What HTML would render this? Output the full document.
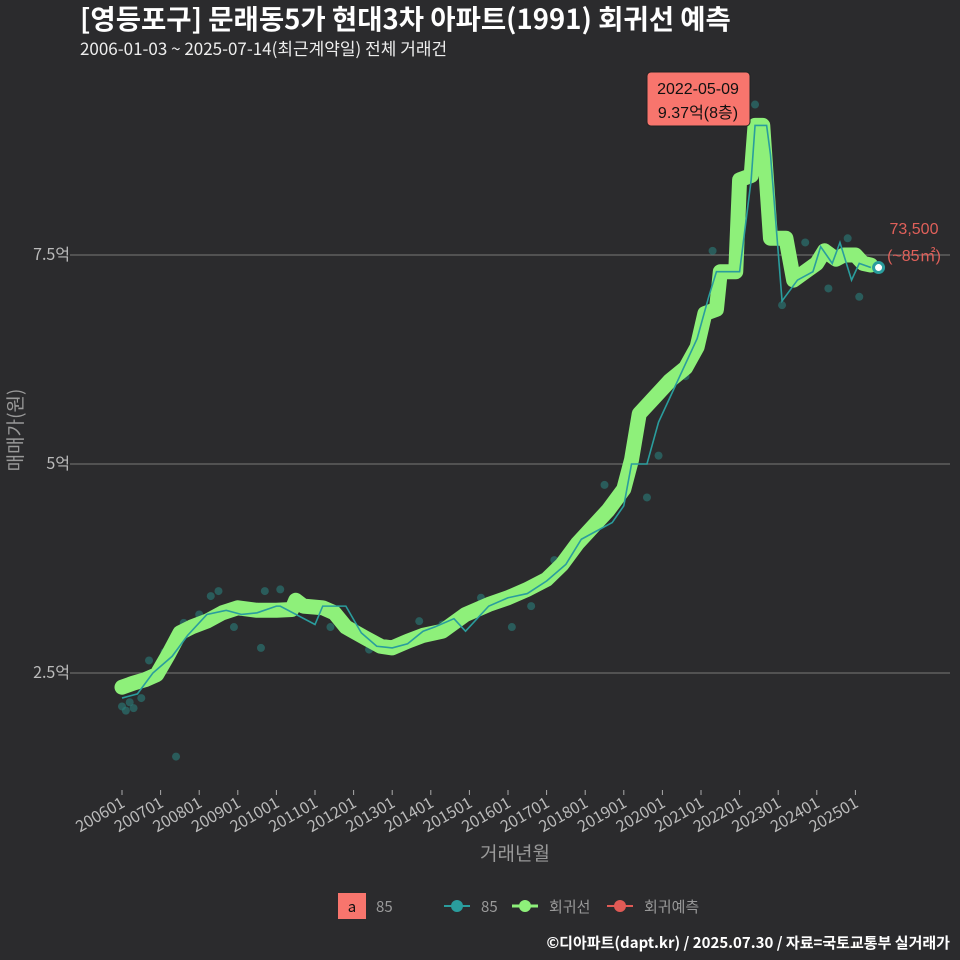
<!DOCTYPE html>
<html><head><meta charset="utf-8"><style>
body{margin:0;background:#2b2b2d;}
svg{display:block;font-family:"Noto Sans CJK KR","Liberation Sans",sans-serif;}
.lib{font-family:"Liberation Sans","Noto Sans CJK KR",sans-serif;}
</style></head><body>
<svg id="c" width="960" height="960" viewBox="0 0 960 960">
<rect width="960" height="960" fill="#2b2b2d"/>
<text x="80" y="29" fill="#fff" font-size="27.5" font-weight="bold">[영등포구] 문래동5가 현대3차 아파트(1991) 회귀선 예측</text>
<text x="80" y="55" fill="#eee" font-size="17">2006-01-03 ~ 2025-07-14(최근계약일) 전체 거래건</text>
<g id="grid"></g>
<g id="pts"></g>
<g id="lines"></g>
<g id="xt"></g>
<text x="515" y="860" fill="#999" font-size="19" text-anchor="middle">거래년월</text>
<text transform="translate(22,430) rotate(-90)" fill="#999" font-size="19" text-anchor="middle">매매가(원)</text>
<g class="lib">
<rect x="647" y="72" width="103" height="54" rx="4" fill="#f8756d" stroke="#222"/>
<text x="698" y="94" font-size="16" text-anchor="middle" fill="#111">2022-05-09</text>
<text x="698" y="118" font-size="16" text-anchor="middle" fill="#111">9.37억(8층)</text>
</g>
<text class="lib" x="914" y="234" fill="#e0605a" font-size="16" text-anchor="middle">73,500</text>
<text class="lib" x="914" y="261" fill="#e0605a" font-size="16" text-anchor="middle">(~85㎡)</text>
<g>
<rect x="338" y="893" width="28" height="26" fill="#f8756d"/>
<text x="352" y="912" font-size="15" text-anchor="middle" fill="#111">a</text>
<text x="376" y="912" font-size="15" fill="#999">85</text>
<line x1="444" y1="906" x2="470" y2="906" stroke="#2a9d9d" stroke-width="2"/><circle cx="457" cy="906" r="6" fill="#2a9d9d"/>
<text x="481" y="912" font-size="15" fill="#999">85</text>
<line x1="512" y1="906" x2="538" y2="906" stroke="#8ef07a" stroke-width="3"/><circle cx="525" cy="906" r="6" fill="#8ef07a"/>
<text x="549" y="912" font-size="15" fill="#999">회귀선</text>
<line x1="607" y1="906" x2="633" y2="906" stroke="#e05a55" stroke-width="2"/><circle cx="620" cy="906" r="6" fill="#e05a55"/>
<text x="644" y="912" font-size="15" fill="#999">회귀예측</text>
</g>
<text x="950" y="948" fill="#fff" font-size="15" font-weight="bold" text-anchor="end">©디아파트(dapt.kr) / 2025.07.30 / 자료=국토교통부 실거래가</text>
</svg>
<script>
const yTicks=[2.5,5,7.5];
const yTickLabels=["2.5억","5억","7.5억"];
const xTickYears=[2006,2007,2008,2009,2010,2011,2012,2013,2014,2015,2016,2017,2018,2019,2020,2021,2022,2023,2024,2025];
const xTickLabels=["200601","200701","200801","200901","201001","201101","201201","201301","201401","201501","201601","201701","201801","201901","202001","202101","202201","202301","202401","202501"];
const trendT=[2006.0,2006.3,2006.6,2006.9,2007.2,2007.5,2007.8,2008.2,2008.6,2009.0,2009.5,2010.0,2010.4,2010.5,2010.7,2011.2,2011.5,2011.8,2012.3,2012.7,2013.0,2013.4,2013.8,2014.3,2014.6,2014.9,2015.5,2016.0,2016.5,2017.0,2017.4,2017.8,2018.2,2018.6,2019.0,2019.2,2019.4,2019.8,2020.2,2020.6,2020.9,2021.1,2021.4,2021.5,2021.9,2022.0,2022.3,2022.4,2022.6,2022.8,2023.2,2023.4,2023.7,2024.0,2024.2,2024.5,2024.7,2025.0,2025.2,2025.4];
const trendV=[2.33,2.38,2.42,2.48,2.72,2.98,3.05,3.12,3.22,3.28,3.25,3.25,3.26,3.37,3.3,3.28,3.22,3.05,2.92,2.82,2.8,2.88,2.95,3.0,3.1,3.2,3.32,3.4,3.5,3.62,3.8,4.05,4.25,4.45,4.7,5.05,5.6,5.8,6.0,6.15,6.4,6.8,6.85,7.3,7.3,8.4,8.45,9.05,9.05,7.7,7.7,7.2,7.3,7.4,7.55,7.45,7.5,7.5,7.4,7.38];
const avgT=[2006.0,2006.4,2006.8,2007.3,2007.7,2008.2,2008.7,2009.1,2009.5,2010.0,2010.1,2011.0,2011.2,2011.6,2011.8,2012.2,2012.6,2013.0,2013.4,2013.8,2014.1,2014.6,2014.9,2015.5,2016.0,2016.5,2017.0,2017.5,2017.9,2018.3,2018.7,2019.0,2019.2,2019.6,2019.9,2020.3,2020.6,2020.9,2021.2,2021.4,2021.5,2022.0,2022.3,2022.4,2022.7,2022.8,2023.1,2023.5,2023.9,2024.1,2024.4,2024.6,2024.9,2025.1,2025.4];
const avgV=[2.2,2.25,2.5,2.7,2.95,3.2,3.25,3.2,3.22,3.3,3.3,3.08,3.3,3.3,3.3,2.98,2.82,2.8,2.85,3.0,3.05,3.15,3.0,3.3,3.4,3.45,3.6,3.8,4.1,4.2,4.3,4.5,5.0,5.0,5.5,5.9,6.2,6.5,7.0,7.3,7.3,7.3,8.4,9.05,9.05,8.7,6.95,7.2,7.3,7.6,7.4,7.65,7.2,7.4,7.35];
const ptT=[2006.0,2006.1,2006.2,2006.3,2006.5,2006.7,2007.1,2007.4,2007.6,2008.0,2008.3,2008.5,2008.9,2009.6,2009.7,2010.1,2011.4,2012.4,2012.9,2013.7,2014.3,2014.6,2015.3,2016.1,2016.6,2017.2,2017.8,2018.5,2019.3,2019.6,2019.9,2020.6,2021.3,2022.4,2023.1,2023.7,2024.3,2024.8,2025.1];
const ptV=[2.1,2.05,2.15,2.08,2.2,2.65,2.75,1.5,3.1,3.2,3.42,3.48,3.05,2.8,3.48,3.5,3.05,2.78,2.82,3.12,3.08,3.15,3.4,3.05,3.3,3.85,4.1,4.75,5.5,4.6,5.1,6.05,7.55,9.3,6.9,7.65,7.1,7.7,7.0];
const NS="http://www.w3.org/2000/svg";
const X=t=>122+(t-2006)*38.6, Y=v=>464-(v-5)*83.6;
function mk(tag,at,parent){const e=document.createElementNS(NS,tag);for(const k in at)e.setAttribute(k,at[k]);document.getElementById(parent).appendChild(e);return e;}
yTicks.forEach((v,i)=>{
 const l=mk('line',{x1:70,x2:950,y1:Y(v),y2:Y(v),stroke:'#6a6a6a','stroke-width':1.3},'grid');
 
 
 const t=mk('text',{x:70,y:Y(v)+5,fill:'#bbb','font-size':16,'text-anchor':'end'},'grid');
 t.textContent=yTickLabels[i];
 
 
});
xTickYears.forEach((yr,i)=>{
 const x=X(yr);
 const l=mk('line',{x1:x,x2:x,y1:790,y2:795,stroke:'#aaa'},'xt');
 
 
 const t=mk('text',{x:x+4,y:806,fill:'#bbb','font-size':16,'text-anchor':'end',transform:`rotate(-30 ${x+4} 806)`},'xt');
 t.textContent=xTickLabels[i];
 
 
});
ptT.forEach((t,i)=>{
 const c=mk('circle',{cx:X(t),cy:Y(ptV[i]),r:4,fill:'#2a7d7a','fill-opacity':0.6},'pts');
 
 
});
const tp=mk('path',{d:trendT.map((t,i)=>(i?'L':'M')+X(t)+','+Y(trendV[i])).join(''),fill:'none',stroke:'#8ef07a','stroke-width':15,'stroke-linejoin':'round','stroke-linecap':'round'},'lines');


const ap=mk('path',{d:avgT.map((t,i)=>(i?'L':'M')+X(t)+','+Y(avgV[i])).join(''),fill:'none',stroke:'#2a9d9d','stroke-width':1.6},'lines');


const fc=mk('circle',{cx:X(2025.6),cy:Y(7.35),r:5,fill:'#fff',stroke:'#2a9d9d','stroke-width':3},'lines');


</script>
</body></html>
